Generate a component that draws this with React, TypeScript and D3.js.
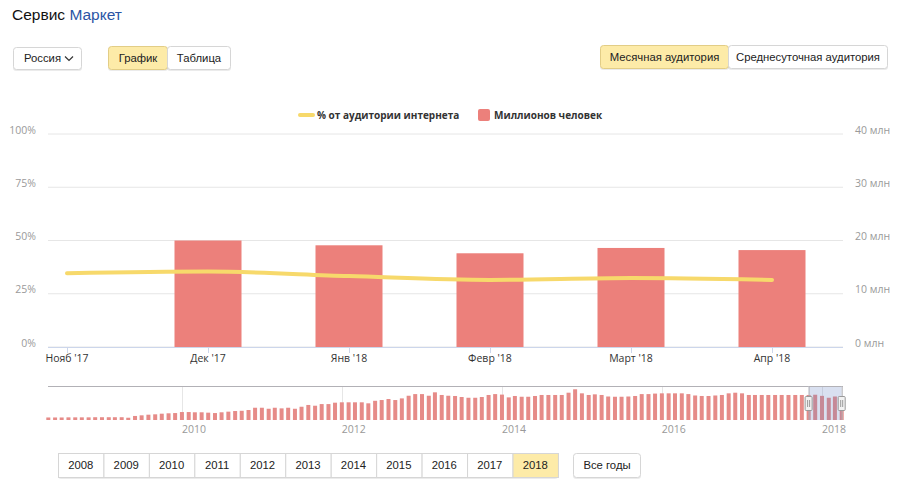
import React from 'react';
import * as d3 from 'd3';

// Main chart: last six months
const months = ["Нояб '17", "Дек '17", "Янв '18", "Февр '18", "Март '18", "Апр '18"];
const audienceMln: (number | null)[] = [null, 20.0, 19.1, 17.6, 18.6, 18.2];
const sharePct = [34.6, 35.4, 33.3, 31.5, 32.4, 31.5];

const leftTicks = [0, 25, 50, 75, 100];
const rightTicks = [0, 10, 20, 30, 40];

// Navigator: monthly audience, May 2008 .. Apr 2018 (млн)
const navStart = new Date(Date.UTC(2008, 4, 1));
const navEnd = new Date(Date.UTC(2018, 3, 1));
const navValues = [
  2.0, 2.0, 2.0, 2.1, 2.1, 2.1, 2.1, 2.2, 2.2, 2.2, 2.2, 2.2, 1.8, 3.2, 3.7, 4.2, 4.5, 5.0, 5.3, 5.5,
  6.3, 6.3, 6.1, 6.1, 5.8, 5.5, 6.1, 6.6, 7.1, 7.3, 7.9, 9.7, 9.7, 8.9, 9.7, 9.2, 9.7, 8.9, 10.5, 11.9,
  11.3, 12.6, 12.6, 13.7, 14.0, 14.0, 14.0, 14.0, 13.2, 15.2, 15.8, 16.6, 15.8, 17.1, 19.2, 20.5, 20.5, 19.2, 21.9, 19.8,
  19.2, 19.0, 18.2, 17.6, 17.6, 18.2, 19.8, 20.5, 20.1, 17.9, 19.0, 18.4, 18.4, 19.0, 19.8, 19.8, 19.8, 19.8, 21.6, 24.3,
  21.1, 19.8, 20.3, 19.8, 18.6, 18.4, 18.4, 18.6, 19.0, 20.5, 20.5, 20.9, 21.1, 21.1, 21.1, 21.1, 20.5, 19.4, 19.0, 19.0,
  19.4, 19.8, 21.1, 21.6, 21.1, 19.8, 19.8, 19.8, 19.8, 19.8, 19.8, 19.8, 19.8, 19.8, 19.8, 20.0, 19.1, 17.6, 18.6, 18.2,
];
const selectedFrom = new Date(Date.UTC(2017, 10, 1));

const years = ['2008', '2009', '2010', '2011', '2012', '2013', '2014', '2015', '2016', '2017', '2018'];
const activeYear = '2018';

const BAR = '#ec807b';
const NAV_BAR = '#e68b88';
const LINE = '#f7d96b';
const ACTIVE_BG = '#fdeba8';
const BORDER = '#d6d6d6';
const UI_FONT = '"Liberation Sans", Arial, sans-serif';
const CHART_FONT = '"Open Sans", "DejaVu Sans", sans-serif';
const UI_SIZE = 11.3;

const plot = { left: 48, right: 843, top: 134, bottom: 347 };

function Button({ x, y, w, h, label, active }: {
  x: number; y: number; w: number; h: number; label: string; active?: boolean;
}) {
  return (
    <g>
      <rect x={x} y={y + 1} width={w} height={h} rx={3} fill="rgba(0,0,0,0.08)" />
      <rect x={x + 0.5} y={y + 0.5} width={w - 1} height={h - 1} rx={3}
        fill={active ? ACTIVE_BG : '#ffffff'} stroke={active ? '#e2cd86' : BORDER} />
      <text x={x + w / 2} y={y + h / 2} dy="0.35em" textAnchor="middle" fontSize={UI_SIZE}
        fill="#222">{label}</text>
    </g>
  );
}

export default function App() {
  const x = d3.scalePoint<string>().domain(months).range([67, 772]);
  const yPct = d3.scaleLinear().domain([0, 100]).range([plot.bottom, plot.top]);
  const yMln = d3.scaleLinear().domain([0, 40]).range([plot.bottom, plot.top]);
  const barW = 67;

  const line = d3
    .line<number>()
    .x((_, i) => x(months[i]) ?? 0)
    .y(d => yPct(d))
    .curve(d3.curveMonotoneX);

  // navigator
  const navMonths = d3.utcMonth.range(navStart, d3.utcMonth.offset(navEnd, 1));
  const navX = d3.scaleUtc().domain([navStart, navEnd]).range([48.3, 841.7]);
  const navY = d3.scaleLinear().domain([0, 26.9]).range([420, 386]);
  const navTicks = navX.ticks(d3.utcYear.every(2) as d3.TimeInterval);
  const selX0 = navX(selectedFrom);
  const selX1 = navX(navEnd);

  const yearW = 45.45;

  return (
    <div style={{ position: 'fixed', left: 0, top: 0, width: 900, height: 486, background: '#fff' }}>
      <svg width={900} height={486} style={{ display: 'block', fontFamily: UI_FONT }}>
        {/* Title */}
        <text x={12} y={20} fontSize={15.5} fill="#111">
          Сервис <tspan fill="#2b55a5">Маркет</tspan>
        </text>

        {/* Controls */}
        <g>
          <rect x={13} y={48} width={69} height={23} rx={3} fill="rgba(0,0,0,0.08)" />
          <rect x={13.5} y={47.5} width={68} height={22} rx={3} fill="#fff" stroke={BORDER} />
          <text x={24} y={58.5} dy="0.35em" fontSize={UI_SIZE} fill="#222">Россия</text>
          <polyline points="65,56.5 69,60.5 73,56.5" fill="none" stroke="#333" strokeWidth={1.2} />
        </g>
        <Button x={108} y={46} w={60} h={24} label="График" active />
        <Button x={167} y={46} w={64} h={24} label="Таблица" />
        <Button x={600} y={45} w={129} h={24} label="Месячная аудитория" active />
        <Button x={728} y={45} w={160} h={24} label="Среднесуточная аудитория" />

        {/* Legend */}
        <g fontFamily={CHART_FONT} fontSize={10} fontWeight={700} fill="#333">
          <line x1={300} x2={313} y1={115} y2={115} stroke={LINE} strokeWidth={4} strokeLinecap="round" />
          <text x={317} y={115} dy="0.35em">% от аудитории интернета</text>
          <rect x={478} y={109} width={12} height={12} rx={2} fill={BAR} />
          <text x={494} y={115} dy="0.35em">Миллионов человек</text>
        </g>

        {/* Gridlines and axis labels */}
        <g fontFamily={CHART_FONT} fontSize={10.5}>
          {leftTicks.map(t => (
            <g key={t}>
              <line x1={plot.left} x2={plot.right} y1={yPct(t)} y2={yPct(t)} stroke="#e6e6e6" />
              <text x={36} y={yPct(t) - 4} dy="0.35em" textAnchor="end" fill="#9a9a9a">{`${t}%`}</text>
            </g>
          ))}
          {rightTicks.map(t => (
            <text key={t} x={855} y={yMln(t) - 4} dy="0.35em" fill="#9a9a9a">{`${t} млн`}</text>
          ))}
        </g>

        {/* Bars */}
        {audienceMln.map((v, i) =>
          v == null ? null : (
            <rect key={months[i]} x={(x(months[i]) ?? 0) - barW / 2} y={yMln(v)} width={barW}
              height={yMln(0) - yMln(v)} fill={BAR} />
          ),
        )}

        {/* X axis */}
        <line x1={plot.left} x2={plot.right} y1={plot.bottom + 0.5} y2={plot.bottom + 0.5} stroke="#ccd6eb" />
        <g fontFamily={CHART_FONT} fontSize={10.5}>
          {months.map(m => (
            <g key={m}>
              <line x1={(x(m) ?? 0) + 0.5} x2={(x(m) ?? 0) + 0.5} y1={plot.bottom} y2={plot.bottom + 6} stroke="#ccd6eb" />
              <text x={x(m)} y={358} dy="0.35em" textAnchor="middle" fill="#333">{m}</text>
            </g>
          ))}
        </g>

        {/* Line */}
        <path d={line(sharePct) ?? ''} fill="none" stroke={LINE} strokeWidth={4} strokeLinecap="round" />

        {/* Navigator */}
        <g>
          {navTicks.map(t => (
            <g key={+t}>
              <line x1={Math.round(navX(t)) + 0.5} x2={Math.round(navX(t)) + 0.5} y1={386} y2={420} stroke="#e6e6e6" />
              <text x={navX(t)} y={429} dy="0.35em" fontFamily={CHART_FONT} fontSize={10.5} fill="#999">
                {d3.utcFormat('%Y')(t)}
              </text>
            </g>
          ))}
          {navValues.map((v, i) => (
            <rect key={i} x={navX(navMonths[i]) - 2} y={navY(v)} width={4} height={navY(0) - navY(v)} fill={NAV_BAR} />
          ))}
          <rect x={selX0} y={386} width={selX1 - selX0} height={34} fill="rgba(102,133,194,0.25)" />
          <path d={`M48,386.5 H${selX0} M${selX1},386.5 H843`} stroke="#b2b1b6" fill="none" />
          <path d={`M${selX0 + 0.5},386 V420 M${selX1 + 0.5},386 V420 M${selX0},386.5 H${selX1}`} stroke="#b2b1b6" fill="none" />
          {[selX0, selX1].map(hx => (
            <g key={hx}>
              <rect x={hx - 3.5} y={396.5} width={7} height={14} rx={1} fill="#f2f2f2" stroke="#999" />
              <line x1={hx - 1} x2={hx - 1} y1={400} y2={407} stroke="#999" />
              <line x1={hx + 1} x2={hx + 1} y1={400} y2={407} stroke="#999" />
            </g>
          ))}
        </g>

        {/* Year buttons */}
        <g>
          <rect x={58} y={454} width={yearW * years.length} height={25} rx={3} fill="rgba(0,0,0,0.08)" />
          {years.map((yr, i) => (
            <g key={yr}>
              <rect x={58 + i * yearW + 0.5} y={453.5} width={yearW} height={24}
                fill={yr === activeYear ? ACTIVE_BG : '#fff'} stroke={BORDER} />
              <text x={58 + i * yearW + yearW / 2} y={465.5} dy="0.35em" textAnchor="middle" fontSize={UI_SIZE} fill="#222">
                {yr}
              </text>
            </g>
          ))}
          <Button x={573} y={453} w={68} h={25} label="Все годы" />
        </g>
      </svg>
    </div>
  );
}
